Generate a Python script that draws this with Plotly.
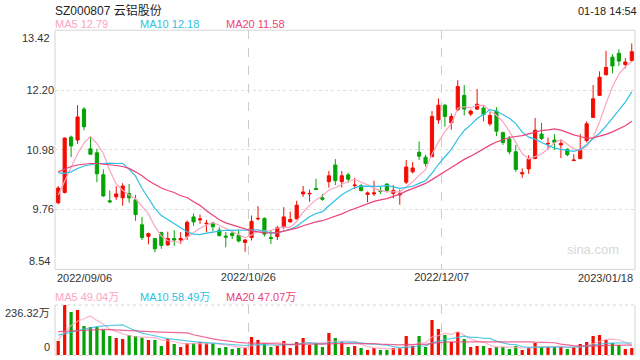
import plotly.graph_objects as go

# ---------------- data ----------------
title_text = "SZ000807 云铝股份"
time_text = "01-18 14:54"

opens = [9.90, 10.11, 11.24, 11.18, 11.81, 11.00, 10.92, 10.47, 9.94, 10.02,
         10.00, 10.09, 9.96, 9.45, 9.21, 9.17, 9.29, 9.04, 9.17, 9.14,
         9.21, 9.61, 9.55, 9.47, 9.49, 9.34, 9.22, 9.28, 9.24, 9.09,
         9.19, 9.57, 9.58, 9.19, 9.21, 9.41, 9.51, 9.57, 10.08, 10.08,
         10.19, 10.00, 10.33, 10.67, 10.33, 10.47, 10.25, 10.25, 10.07, 10.08,
         10.15, 10.28, 10.09, 10.06, 10.32, 10.53, 10.93, 10.83, 10.84, 11.59,
         11.89, 11.53, 11.80, 12.09, 11.71, 11.81, 11.83, 11.51, 11.77, 11.33,
         11.20, 10.94, 10.49, 10.59, 10.80, 11.30, 11.10, 11.18, 11.08, 10.99,
         10.76, 10.80, 11.17, 11.64, 12.09, 12.51, 12.87, 12.95, 12.72, 12.80]
highs = [10.24, 11.23, 11.27, 11.89, 11.85, 11.26, 11.00, 10.58, 10.15, 10.24,
         10.30, 10.28, 10.06, 9.61, 9.29, 9.18, 9.31, 9.31, 9.34, 9.30,
         9.54, 9.68, 9.66, 9.55, 9.51, 9.40, 9.30, 9.32, 9.34, 9.16,
         9.64, 9.83, 9.60, 9.34, 9.43, 9.81, 9.72, 9.94, 10.24, 10.17,
         10.39, 10.08, 10.55, 10.79, 10.55, 10.51, 10.41, 10.28, 10.13, 10.35,
         10.23, 10.30, 10.26, 10.17, 10.77, 10.73, 11.15, 10.88, 11.77, 12.03,
         11.91, 11.72, 12.40, 12.30, 11.80, 12.22, 11.87, 11.75, 11.85, 11.35,
         11.26, 11.08, 10.60, 10.87, 11.63, 11.53, 11.23, 11.30, 11.19, 11.01,
         10.89, 11.30, 11.56, 12.30, 12.58, 13.00, 12.93, 13.03, 12.85, 13.15]
lows = [9.87, 10.09, 10.83, 11.10, 11.38, 10.88, 10.32, 10.02, 9.89, 9.96,
        9.84, 9.90, 9.53, 9.14, 9.05, 8.89, 8.96, 9.02, 9.02, 9.06,
        9.14, 9.43, 9.47, 9.30, 9.32, 9.21, 8.99, 9.16, 9.09, 8.90,
        9.13, 9.54, 9.21, 9.06, 9.14, 9.36, 9.49, 9.56, 10.02, 9.92,
        10.16, 9.94, 10.21, 10.26, 10.21, 10.31, 10.18, 10.13, 9.91, 10.04,
        10.08, 10.11, 9.99, 9.86, 10.28, 10.50, 10.77, 10.64, 10.83, 11.51,
        11.45, 11.39, 11.77, 11.68, 11.67, 11.79, 11.56, 11.47, 11.26, 11.08,
        10.89, 10.53, 10.41, 10.49, 10.79, 11.18, 10.99, 10.98, 10.81, 10.85,
        10.75, 10.79, 11.13, 11.63, 12.08, 12.50, 12.54, 12.69, 12.64, 12.78]
closes = [10.20, 11.22, 11.06, 11.65, 11.45, 10.89, 10.49, 10.04, 9.92, 10.08,
          10.24, 10.00, 9.66, 9.19, 9.27, 8.96, 9.03, 9.17, 9.14, 9.17,
          9.50, 9.51, 9.57, 9.48, 9.41, 9.23, 9.20, 9.23, 9.12, 9.14,
          9.52, 9.58, 9.26, 9.17, 9.39, 9.61, 9.56, 9.85, 10.12, 10.09,
          10.17, 9.97, 10.45, 10.35, 10.45, 10.38, 10.26, 10.15, 10.10, 10.10,
          10.13, 10.15, 10.15, 10.08, 10.63, 10.61, 10.85, 10.70, 11.66, 11.89,
          11.66, 11.66, 12.27, 11.81, 11.77, 11.91, 11.70, 11.68, 11.36, 11.13,
          10.94, 10.58, 10.51, 10.79, 11.38, 11.21, 11.11, 11.13, 11.11, 10.88,
          10.77, 10.98, 11.51, 12.02, 12.46, 12.66, 12.69, 12.79, 12.77, 12.98]
# volume in 万
volumes = [67.3, 236.3, 203.5, 212.8, 137.7, 133.0, 133.0, 120.5, 90.8, 81.4,
           76.7, 95.5, 90.8, 82.9, 72.0, 72.0, 43.8, 76.7, 53.2, 39.1,
           56.3, 56.3, 62.6, 56.3, 56.3, 34.4, 39.1, 29.7, 34.4, 36.0,
           86.1, 72.0, 56.3, 39.1, 43.8, 67.3, 34.4, 62.6, 81.4, 48.5,
           56.3, 39.1, 104.9, 81.4, 61.0, 39.1, 43.8, 34.4, 25.0, 34.4,
           25.0, 25.0, 34.4, 34.4, 90.8, 43.8, 90.8, 39.1, 165.9, 123.6,
           95.5, 62.6, 109.6, 76.7, 39.1, 43.8, 43.8, 34.4, 39.1, 39.1,
           29.7, 43.8, 25.0, 34.4, 57.9, 39.1, 39.1, 39.1, 39.1, 29.7,
           39.1, 53.2, 62.6, 90.8, 95.5, 72.0, 57.9, 48.5, 29.7, 34.4]

# moving-average values before enough in-window history exists
ma5_head = [10.06, 10.33, 10.60, 10.90]
ma10_head = [10.51, 10.50, 10.53, 10.60, 10.65, 10.68, 10.70, 10.70, 10.71]
ma20_head = [10.53, 10.58, 10.64, 10.67, 10.69, 10.70, 10.70, 10.69, 10.68, 10.66,
             10.64, 10.60, 10.53, 10.45, 10.35, 10.28, 10.20, 10.15, 10.11]
vma5_head = [72.0, 110.0, 140.0, 160.0]
vma10_head = [95.0, 100.0, 108.0, 116.0, 122.0, 130.0, 135.0, 138.0, 140.0]
vma20_head = [111, 113, 115, 117, 119, 121, 122, 122, 121, 119,
              117, 115, 113, 112, 111, 110, 109, 108, 107]

ma_names = ["MA5", "MA10", "MA20"]
price_ma_labels = ["12.79", "12.18", "11.58"]
vol_ma_labels = ["49.04万", "58.49万", "47.07万"]

price_ticks = [9.76, 10.98, 12.20]
price_min, price_max = 8.54, 13.42
vol_max_label = "236.32万"
vol_max = 236.32

tick_index = [0, 30, 60, 89]
tick_labels = ["2022/09/06", "2022/10/26", "2022/12/07", "2023/01/18"]

# ---------------- helpers ----------------
def moving_avg(vals, n, head):
    out = []
    for i in range(len(vals)):
        if i >= n - 1:
            out.append(sum(vals[i - n + 1:i + 1]) / n)
        else:
            out.append(head[i])
    return out

N = len(closes)
xs = list(range(N))
ma5 = moving_avg(closes, 5, ma5_head)
ma10 = moving_avg(closes, 10, ma10_head)
ma20 = moving_avg(closes, 20, ma20_head)
vma5 = moving_avg(volumes, 5, vma5_head)
vma10 = moving_avg(volumes, 10, vma10_head)
vma20 = moving_avg(volumes, 20, vma20_head)

RED = "#f20d00"
GREEN = "#05a305"
C5 = "#fba4c2"
C10 = "#2ec1e2"
C20 = "#ec4279"
FONT = "Liberation Sans, Arial, Noto Sans CJK SC, sans-serif"

W, H = 640, 360
L_PX, R_PX = 55, 635
P_TOP, P_BOT = 30.2, 269.4
V_TOP, V_BOT = 305, 355.3

def px(x):
    return x / W

def py(y):
    return 1 - y / H

fig = go.Figure()

fig.add_trace(go.Candlestick(
    x=xs, open=opens, high=highs, low=lows, close=closes,
    increasing=dict(line=dict(color=RED, width=1), fillcolor=RED),
    decreasing=dict(line=dict(color=GREEN, width=1), fillcolor=GREEN),
    whiskerwidth=0, xaxis="x", yaxis="y", showlegend=False, hoverinfo="skip"))

for vals, col in [(ma5, C5), (ma10, C10), (ma20, C20)]:
    fig.add_trace(go.Scatter(x=xs, y=vals, mode="lines", line=dict(color=col, width=1.2),
                             xaxis="x", yaxis="y", showlegend=False, hoverinfo="skip"))

bar_colors = [RED if c >= o else GREEN for o, c in zip(opens, closes)]
fig.add_trace(go.Bar(x=xs, y=volumes, marker=dict(color=bar_colors, line=dict(width=0)),
                     width=0.5, xaxis="x2", yaxis="y2", showlegend=False, hoverinfo="skip"))
for vals, col in [(vma5, C5), (vma10, C10), (vma20, C20)]:
    fig.add_trace(go.Scatter(x=xs, y=vals, mode="lines", line=dict(color=col, width=1.2),
                             opacity=0.8, xaxis="x2", yaxis="y2", showlegend=False, hoverinfo="skip"))

grid_x = [tick_index[1] - 0.5, tick_index[2] - 0.5]
xdom = [px(L_PX), px(R_PX)]

fig.update_layout(
    width=W, height=H, margin=dict(l=0, r=0, t=0, b=0),
    paper_bgcolor="white", plot_bgcolor="white",
    font=dict(family=FONT, size=11, color="#333"),
    xaxis=dict(domain=xdom, range=[-0.5, N - 0.5], anchor="y",
               tickvals=grid_x, ticktext=tick_labels[1:3], showgrid=True,
               gridcolor="#cccccc", griddash="dash", gridwidth=1,
               zeroline=False, showline=False, ticks="", rangeslider=dict(visible=False),
               tickfont=dict(size=11, color="#333")),
    yaxis=dict(domain=[py(P_BOT), py(P_TOP)], range=[price_min, price_max], anchor="x",
               tickvals=price_ticks, ticktext=["%.2f" % v for v in price_ticks],
               showgrid=True, gridcolor="#dddddd", griddash="dot", gridwidth=1,
               zeroline=False, showline=False, ticks="", tickfont=dict(size=11, color="#333")),
    xaxis2=dict(domain=xdom, range=[-0.5, N - 0.5], anchor="y2", matches="x",
                tickvals=grid_x, showticklabels=False, showgrid=True,
                gridcolor="#cccccc", griddash="dash", gridwidth=1, zeroline=False, ticks=""),
    yaxis2=dict(domain=[py(V_BOT), py(V_TOP)], range=[0, vol_max], anchor="x2",
                showticklabels=False, showgrid=False, zeroline=False, ticks=""),
    bargap=0.3,
)

shapes = []
# price panel border
shapes.append(dict(type="rect", xref="paper", yref="paper", x0=px(L_PX), x1=px(R_PX),
                   y0=py(P_BOT), y1=py(P_TOP), line=dict(color="#d5d5d5", width=1)))
# volume panel borders
shapes.append(dict(type="line", xref="paper", yref="paper", x0=px(L_PX), x1=px(R_PX),
                   y0=py(V_TOP), y1=py(V_TOP), line=dict(color="#d5d5d5", width=1, dash="dot")))
shapes.append(dict(type="line", xref="paper", yref="paper", x0=px(L_PX), x1=px(R_PX),
                   y0=py(V_BOT), y1=py(V_BOT), line=dict(color="#d5d5d5", width=1, dash="dot")))
shapes.append(dict(type="line", xref="paper", yref="paper", x0=px(L_PX), x1=px(L_PX),
                   y0=py(V_BOT), y1=py(V_TOP), line=dict(color="#d5d5d5", width=1)))
shapes.append(dict(type="line", xref="paper", yref="paper", x0=px(R_PX), x1=px(R_PX),
                   y0=py(V_BOT), y1=py(V_TOP), line=dict(color="#d5d5d5", width=1)))
fig.update_layout(shapes=shapes)

ann = []
ann.append(dict(text=title_text, x=px(54), y=py(10.5), xref="paper", yref="paper",
                xanchor="left", yanchor="middle", showarrow=False, borderpad=0,
                font=dict(size=12, color="#222")))
ann.append(dict(text=time_text, x=px(638), y=py(10.5), xref="paper", yref="paper",
                xanchor="right", yanchor="middle", showarrow=False, borderpad=0,
                font=dict(size=11, color="#222")))
leg_x = [54, 139, 225]
for name, lab, col, lx in zip(ma_names, price_ma_labels, [C5, C10, C20], leg_x):
    ann.append(dict(text=f"{name} {lab}", x=px(lx), y=py(24), xref="paper", yref="paper",
                    xanchor="left", yanchor="middle", showarrow=False, borderpad=0,
                    font=dict(size=11, color=col)))
for name, lab, col, lx in zip(ma_names, vol_ma_labels, [C5, C10, C20], leg_x):
    ann.append(dict(text=f"{name} {lab}", x=px(lx), y=py(297), xref="paper", yref="paper",
                    xanchor="left", yanchor="middle", showarrow=False, borderpad=0,
                    font=dict(size=11, color=col)))
# edge price labels
ann.append(dict(text="%.2f" % price_max, x=px(52), y=price_max, xref="paper", yref="y",
                xanchor="right", yanchor="top", showarrow=False, font=dict(size=11, color="#333")))
ann.append(dict(text="%.2f" % price_min, x=px(52), y=price_min, xref="paper", yref="y",
                xanchor="right", yanchor="bottom", showarrow=False, font=dict(size=11, color="#333")))
# volume labels
ann.append(dict(text=vol_max_label, x=px(52), y=vol_max, xref="paper", yref="y2",
                xanchor="right", yanchor="top", showarrow=False, font=dict(size=11, color="#333")))
ann.append(dict(text="0", x=px(52), y=0, xref="paper", yref="y2",
                xanchor="right", yanchor="bottom", showarrow=False, font=dict(size=11, color="#333")))
# first / last date labels
ann.append(dict(text=tick_labels[0], x=-0.5, y=py(P_BOT + 8.5), xref="x", yref="paper",
                xanchor="left", yanchor="middle", showarrow=False, font=dict(size=11, color="#333")))
ann.append(dict(text=tick_labels[3], x=N - 0.5, y=py(P_BOT + 8.5), xref="x", yref="paper",
                xanchor="right", yanchor="middle", showarrow=False, font=dict(size=11, color="#333")))
# watermark
ann.append(dict(text="sina.com", x=px(621), y=py(249), xref="paper", yref="paper",
                xanchor="right", yanchor="middle", showarrow=False, font=dict(size=13, color="#d8d8d8")))
fig.update_layout(annotations=ann)

fig.write_html("out.html", config={"displayModeBar": False, "staticPlot": True})

# remove default page margin so the 640x360 figure fills the window exactly
with open("out.html", "r", encoding="utf-8") as f:
    html = f.read()
html = html.replace("<head>", "<head><style>html,body{margin:0;padding:0;overflow:hidden;}</style>", 1)
with open("out.html", "w", encoding="utf-8") as f:
    f.write(html)
